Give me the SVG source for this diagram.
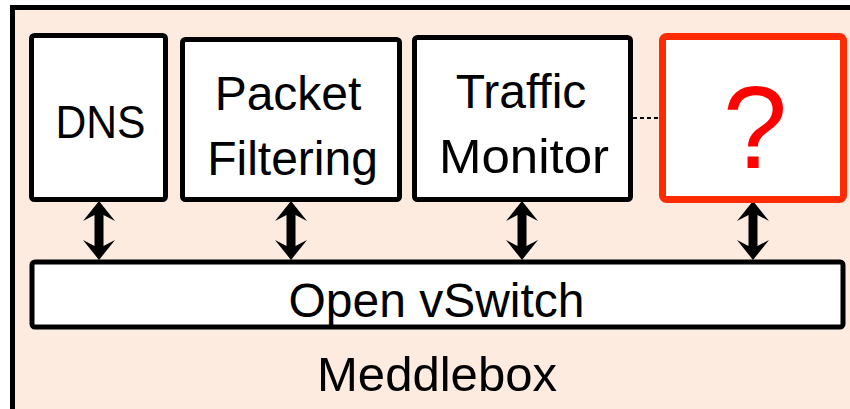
<svg xmlns="http://www.w3.org/2000/svg" width="850" height="409" viewBox="0 0 850 409">
<style>
.box{fill:#fff;stroke:#000;stroke-width:5}
.red{fill:#fff;stroke:#ff2a00;stroke-width:7}
.lbl{font-family:"Liberation Sans",Arial,sans-serif;font-size:48px;fill:#000;text-anchor:middle}
.arr{fill:#000}
</style>
<defs>
<path id="dblarrow" d="M0,201 L16,221 L4.5,215 L4.5,246 L16,240 L0,260 L-16,240 L-4.5,246 L-4.5,215 L-16,221 Z"/>
</defs>
<rect width="850" height="409" fill="#fff"/>
<g id="meddlebox">
<rect x="12.5" y="7.5" width="860" height="420" fill="#fdebe0" stroke="#000" stroke-width="5"/>
<text class="lbl" x="437" y="391" textLength="240" lengthAdjust="spacingAndGlyphs">Meddlebox</text>
</g>
<g id="connectors">
<use href="#dblarrow" x="99" class="arr"/>
<use href="#dblarrow" x="291" class="arr"/>
<use href="#dblarrow" x="522" class="arr"/>
<use href="#dblarrow" x="753" class="arr"/>
<line x1="633" y1="118" x2="659" y2="118" stroke="#000" stroke-width="2" stroke-dasharray="4,3"/>
</g>
<g id="dns">
<rect class="box" x="31.5" y="35.5" width="134" height="164" rx="3"/>
<text class="lbl" x="100.5" y="138" style="font-size:46px" textLength="90" lengthAdjust="spacingAndGlyphs">DNS</text>
</g>
<g id="packet-filtering">
<rect class="box" x="182.5" y="39.5" width="217" height="160" rx="3"/>
<text class="lbl" x="288" y="110">Packet</text>
<text class="lbl" x="292.5" y="175">Filtering</text>
</g>
<g id="traffic-monitor">
<rect class="box" x="414.5" y="37.5" width="216" height="162" rx="3"/>
<text class="lbl" x="521" y="108">Traffic</text>
<text class="lbl" x="524" y="173" textLength="170" lengthAdjust="spacingAndGlyphs">Monitor</text>
</g>
<g id="unknown">
<rect class="red" x="662.5" y="36.5" width="181" height="163" rx="4"/>
<text x="755" y="168" font-family="'Liberation Sans',Arial,sans-serif" font-size="116" fill="#ff0000" text-anchor="middle">?</text>
</g>
<g id="open-vswitch">
<rect class="box" x="32" y="262" width="811" height="65" rx="3"/>
<text class="lbl" x="436.5" y="317">Open vSwitch</text>
</g>
</svg>
